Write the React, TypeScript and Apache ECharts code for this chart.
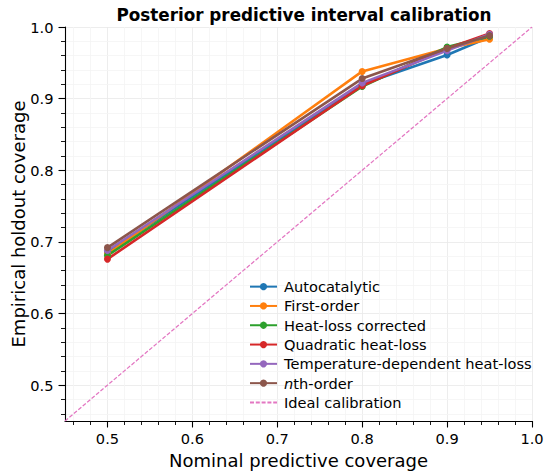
import React, { useEffect, useRef } from "react";
import * as echarts from "echarts";

const nominal = [0.5, 0.8, 0.9, 0.95];
const autocatalytic = [0.685, 0.92, 0.961, 0.986];
const firstOrder = [0.683, 0.938, 0.97, 0.983];
const heatLossCorrected = [0.681, 0.917, 0.972, 0.987];
const quadraticHeatLoss = [0.676, 0.918, 0.97, 0.991];
const tempDependent = [0.688, 0.922, 0.967, 0.99];
const nthOrder = [0.692, 0.928, 0.97, 0.988];
const idealLine = [0.45, 1.0];

const majorTicks = [0.5, 0.6, 0.7, 0.8, 0.9, 1.0];
const minorTicks = [0.46, 0.48, 0.52, 0.54, 0.56, 0.58, 0.62, 0.64, 0.66, 0.68, 0.72, 0.74, 0.76, 0.78, 0.82, 0.84, 0.86, 0.88, 0.92, 0.94, 0.96, 0.98];

const seriesDefs = [
  { name: "Autocatalytic", data: autocatalytic, color: "#1f77b4" },
  { name: "First-order", data: firstOrder, color: "#ff7f0e" },
  { name: "Heat-loss corrected", data: heatLossCorrected, color: "#2ca02c" },
  { name: "Quadratic heat-loss", data: quadraticHeatLoss, color: "#d62728" },
  { name: "Temperature-dependent heat-loss", data: tempDependent, color: "#9467bd" },
  { name: "nth-order", data: nthOrder, color: "#8c564b" },
];

const FONT = "DejaVu Sans";
const AXMIN = 0.45;
const AXMAX = 1.0;

export default function App() {
  const ref = useRef<HTMLDivElement>(null);
  useEffect(() => {
    if (!ref.current) return;
    const chart = echarts.init(ref.current, null, { renderer: "svg" });
    const lineSeries: any[] = seriesDefs.map((s) => ({
      name: s.name,
      type: "line",
      xAxisIndex: 0,
      yAxisIndex: 0,
      data: nominal.map((x, i) => [x, s.data[i]]),
      symbol: "circle",
      symbolSize: 7,
      showSymbol: true,
      itemStyle: { color: s.color },
      lineStyle: { color: s.color, width: 2.6 },
      emphasis: { disabled: true },
      z: 3,
    }));
    lineSeries.push({
      name: "Ideal calibration",
      type: "line",
      data: [[idealLine[0], idealLine[0]], [idealLine[1], idealLine[1]]],
      symbol: "none",
      itemStyle: { color: "#e377c2" },
      lineStyle: { color: "#e377c2", width: 1.25, type: [4, 1.8] },
      emphasis: { disabled: true },
      z: 2,
    });
    // minor grid lines
    lineSeries.push({
      name: "__minorgrid",
      type: "line",
      data: [],
      silent: true,
      z: 0,
      markLine: {
        silent: true,
        z: 0,
        symbol: "none",
        label: { show: false },
        emphasis: { disabled: true },
        lineStyle: { color: "#f4f4f4", width: 0.8, type: "solid" },
        data: [
          ...minorTicks.map((v) => ({ xAxis: v })),
          ...minorTicks.map((v) => ({ yAxis: v })),
        ],
      },
    });

    const axisCommon = {
      type: "value",
      min: AXMIN,
      max: AXMAX,
      splitNumber: 5,
    };

    chart.setOption({
      animation: false,
      title: {
        text: "Posterior predictive interval calibration",
        left: 299,
        textAlign: "center",
        top: 1,
        textStyle: { fontFamily: FONT, fontSize: 16.8, fontWeight: "bold", color: "#000" },
      },
      legend: {
        orient: "vertical",
        left: 249,
        top: 277,
        padding: 0,
        itemWidth: 27,
        itemHeight: 9,
        itemGap: 0,
        z: 10,
        data: [
          ...seriesDefs.map((s) => s.name),
          { name: "Ideal calibration", itemStyle: { opacity: 0 } },
        ],
        formatter: (name: string) => (name === "nth-order" ? "{i|n}th-order" : name),
        textStyle: {
          fontFamily: FONT,
          fontSize: 14.6,
          color: "#000",
          lineHeight: 19.3,
          padding: [0, 0, 0, 2],
          rich: {
            i: { fontStyle: "italic", fontFamily: FONT, fontSize: 14.6, color: "#000", lineHeight: 19.3 },
          },
        },
      },
      grid: { left: 65, right: 18, top: 27, bottom: 54, containLabel: false, outerBoundsMode: "none" },
      xAxis: [
        {
          ...axisCommon,
          position: "bottom",
          name: "Nominal predictive coverage",
          nameLocation: "middle",
          nameGap: 30,
          nameMoveOverlap: false,
          nameTextStyle: { fontFamily: FONT, fontSize: 18, color: "#000" },
          axisLine: { show: true, lineStyle: { color: "#000", width: 1.1 } },
          axisTick: { show: true, customValues: majorTicks, length: 6.5, lineStyle: { color: "#000", width: 1.1 } },
          axisLabel: {
            customValues: majorTicks,
            formatter: (v: number) => v.toFixed(1),
            fontFamily: FONT,
            fontSize: 14.6,
            color: "#000",
            margin: 10,
          },
          splitLine: { show: true, lineStyle: { color: "#e8e8e8", width: 0.8 } },
        },
        {
          ...axisCommon,
          position: "bottom",
          axisLine: { show: false },
          axisTick: { show: true, customValues: minorTicks, length: 4, lineStyle: { color: "#000", width: 0.9 } },
          axisLabel: { show: false },
          splitLine: { show: false },
        },
      ],
      yAxis: [
        {
          ...axisCommon,
          position: "left",
          name: "Empirical holdout coverage",
          nameLocation: "middle",
          nameGap: 38,
          nameMoveOverlap: false,
          nameTextStyle: { fontFamily: FONT, fontSize: 18, color: "#000" },
          axisLine: { show: true, lineStyle: { color: "#000", width: 1.1 } },
          axisTick: { show: true, customValues: majorTicks, length: 6.5, lineStyle: { color: "#000", width: 1.1 } },
          axisLabel: {
            customValues: majorTicks,
            formatter: (v: number) => v.toFixed(1),
            fontFamily: FONT,
            fontSize: 14.6,
            color: "#000",
            margin: 11.5,
          },
          splitLine: { show: true, lineStyle: { color: "#e8e8e8", width: 0.8 } },
        },
        {
          ...axisCommon,
          position: "left",
          axisLine: { show: false },
          axisTick: { show: true, customValues: minorTicks, length: 4, lineStyle: { color: "#000", width: 0.9 } },
          axisLabel: { show: false },
          splitLine: { show: false },
        },
      ],
      series: lineSeries,
    });
    return () => chart.dispose();
  }, []);
  return (
    <div
      ref={ref}
      style={{ position: "absolute", left: 0, top: 0, width: 550, height: 475, background: "#fff" }}
    />
  );
}
